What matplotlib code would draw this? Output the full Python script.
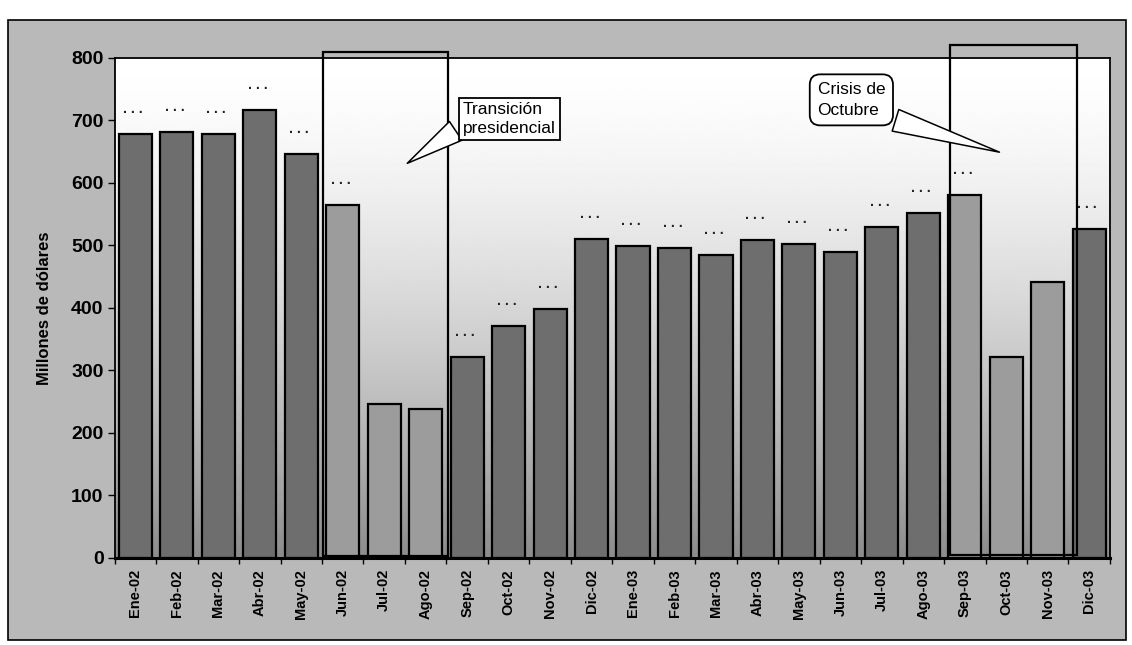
import numpy as np
import matplotlib.pyplot as plt
from matplotlib.patches import Rectangle

plt.rcParams['font.family'] = ['Liberation Sans', 'DejaVu Sans']

meses = ["Ene-02", "Feb-02", "Mar-02", "Abr-02", "May-02", "Jun-02", "Jul-02", "Ago-02",
         "Sep-02", "Oct-02", "Nov-02", "Dic-02", "Ene-03", "Feb-03", "Mar-03", "Abr-03",
         "May-03", "Jun-03", "Jul-03", "Ago-03", "Sep-03", "Oct-03", "Nov-03", "Dic-03"]
montos = [678, 682, 678, 717, 646, 565, 246, 238,
          322, 371, 398, 511, 499, 496, 485, 508,
          502, 490, 530, 552, 580, 322, 442, 527]

# meses dentro de los dos periodos marcados
transicion = ["Jun-02", "Jul-02", "Ago-02"]
crisis = ["Sep-03", "Oct-03", "Nov-03"]
# etiquetas que no salen legibles
sin_etiqueta = ["Jul-02", "Ago-02", "Oct-03", "Nov-03"]

fig = plt.figure(figsize=(11.32, 6.45), dpi=100, facecolor="white")
marco = Rectangle((0.007, 0.008), 0.988, 0.961, transform=fig.transFigure,
                  facecolor="#b9b9b9", edgecolor="black", lw=1.2, zorder=-10)
fig.patches.append(marco)

ax = fig.add_axes([0.1013, 0.1349, 0.8792, 0.7752])

x = np.arange(len(meses))
# fondo con degradado blanco arriba, gris abajo
t = np.linspace(0, 1, 200)[:, None]
fondo = 1 - 0.45 * (1 - t) ** 1.5
ax.imshow(fondo, extent=[-0.5, len(meses) - 0.5, 0, 800], origin="lower",
          aspect="auto", cmap="gray", vmin=0, vmax=1, zorder=0)

colores = ["#9c9c9c" if (m in transicion or m in crisis) else "#6e6e6e" for m in meses]
ax.bar(x, montos, width=0.8, color=colores, edgecolor="black", linewidth=1.6, zorder=2)

for i, (m, v) in enumerate(zip(meses, montos)):
    if m not in sin_etiqueta:
        ax.text(i - 0.05, v + 40, ". . .", ha="center", va="center", fontsize=10,
                fontweight="bold", color="#222222", zorder=3)

# recuadros de los periodos
i0 = meses.index(transicion[0])
ax.add_patch(Rectangle((i0 - 0.48, 3), 3.02, 807, fill=False, edgecolor="black",
                       lw=1.6, clip_on=False, zorder=4))
i1 = meses.index(crisis[0])
ax.add_patch(Rectangle((i1 - 0.36, 5), 3.06, 816, fill=False, edgecolor="black",
                       lw=1.6, clip_on=False, zorder=4))

ax.annotate("Transición\npresidencial", xy=(6.5, 629), xytext=(7.9, 702),
            ha="left", va="center", fontsize=12.5, linespacing=1.3,
            bbox=dict(boxstyle="square,pad=0.25", fc="white", ec="black", lw=1.3),
            arrowprops=dict(arrowstyle="wedge,tail_width=1.3", fc="white", ec="black",
                            lw=1.1, relpos=(0.0, 0.3)), zorder=5)
ax.annotate("Crisis de\nOctubre", xy=(20.9, 648), xytext=(16.45, 733),
            ha="left", va="center", fontsize=12.5, linespacing=1.45,
            bbox=dict(boxstyle="round,pad=0.45,rounding_size=0.6", fc="white", ec="black", lw=1.3),
            arrowprops=dict(arrowstyle="wedge,tail_width=1.3", fc="white", ec="black",
                            lw=1.1, relpos=(0.85, 0.1)), zorder=5)

ax.set_xlim(-0.5, len(meses) - 0.5)
ax.set_ylim(0, 800)
ax.set_yticks(range(0, 801, 100))
ax.set_xticks(x)
ax.set_xticklabels(meses, rotation=90, fontsize=10.5, fontweight="bold")
ax.set_xticks(np.arange(-0.5, len(meses), 1), minor=True)
ax.tick_params(axis="x", which="major", length=0, pad=8)
ax.tick_params(axis="x", which="minor", length=4, width=1)
ax.tick_params(axis="y", length=5, width=1, pad=3)
for lab in ax.get_yticklabels():
    lab.set_fontsize(14)
    lab.set_fontweight("bold")
ax.set_ylabel("Millones de dólares", fontsize=12, fontweight="bold", labelpad=14)

for s in ax.spines.values():
    s.set_linewidth(1.3)
ax.spines["bottom"].set_linewidth(2.2)

fig.savefig("out.png", dpi=100, facecolor="white")
